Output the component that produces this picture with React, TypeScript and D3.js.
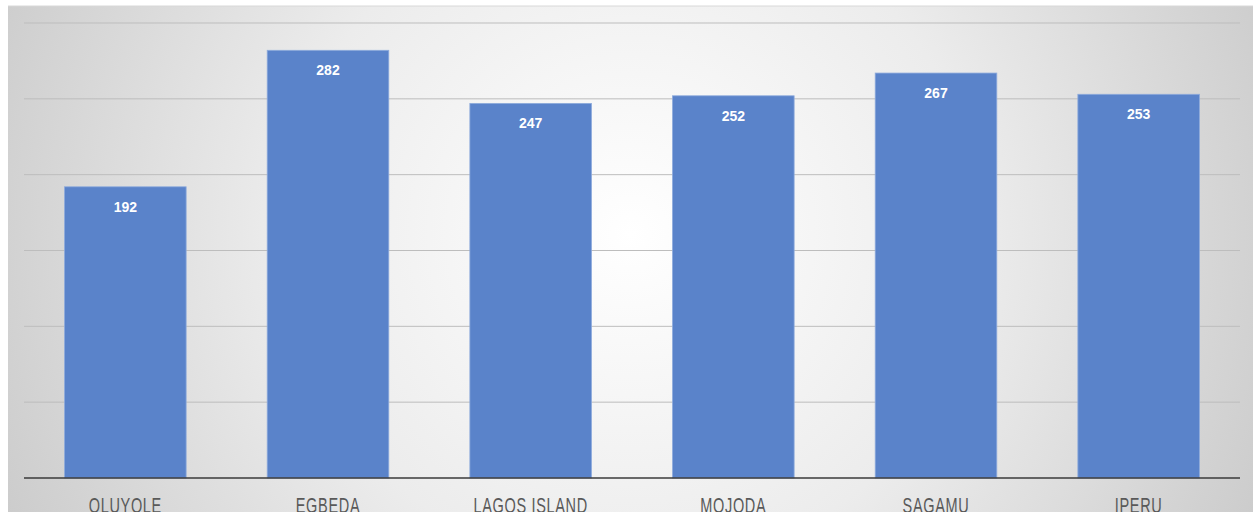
import React from "react";
import * as d3 from "d3";

const categories = ["OLUYOLE", "EGBEDA", "LAGOS ISLAND", "MOJODA", "SAGAMU", "IPERU"];
const values = [192, 282, 247, 252, 267, 253];
const yTicks = [0, 50, 100, 150, 200, 250, 300];

const W = 1253;
const H = 512;

export default function App() {
  const x = d3.scaleBand<string>().domain(categories).range([24, 1240]).paddingInner(0.4).paddingOuter(0.2);
  const y = d3.scaleLinear().domain([0, 300]).range([478, 23]);
  return (
    <svg width={W} height={H} style={{ position: "absolute", left: 0, top: 0 }} fontFamily="'Liberation Sans', Arial, sans-serif">
      <defs>
        <radialGradient id="bg" cx="0.5" cy="0.45" r="0.62" gradientTransform="translate(0.5,0.45) scale(1,2.4) translate(-0.5,-0.45)">
          <stop offset="0" stopColor="#ffffff" />
          <stop offset="0.45" stopColor="#ececec" />
          <stop offset="1" stopColor="#c4c4c4" />
        </radialGradient>
      </defs>
      <rect x={0} y={0} width={W} height={H} fill="#ffffff" />
      <rect x={8} y={6} width={W - 8} height={H - 6} fill="url(#bg)" />
      <line x1={8} x2={W} y1={6} y2={6} stroke="#d8d8d8" />
      {yTicks.slice(1).map((t) => (
        <line key={t} x1={24} x2={1240} y1={y(t)} y2={y(t)} stroke="#bdbdbd" strokeWidth={1} />
      ))}
      {categories.map((c, i) => (
        <g key={c}>
          <rect x={x(c)} y={y(values[i])} width={x.bandwidth()} height={y(0) - y(values[i])} fill="#5a83ca" stroke="#8eabdc" strokeWidth={0.8} />
          <text x={(x(c) as number) + x.bandwidth() / 2} y={y(values[i]) + 25} textAnchor="middle" fill="#ffffff" fontWeight="bold" fontSize={14}>
            {values[i]}
          </text>
          <text
            transform={`translate(${(x(c) as number) + x.bandwidth() / 2},513) scale(0.66,1)`}
            textAnchor="middle"
            fill="#595959"
            fontSize={22}
            letterSpacing={1}
          >
            {c}
          </text>
        </g>
      ))}
      <line x1={24} x2={1240} y1={y(0)} y2={y(0)} stroke="#3a3a3a" strokeWidth={1.6} />
    </svg>
  );
}
